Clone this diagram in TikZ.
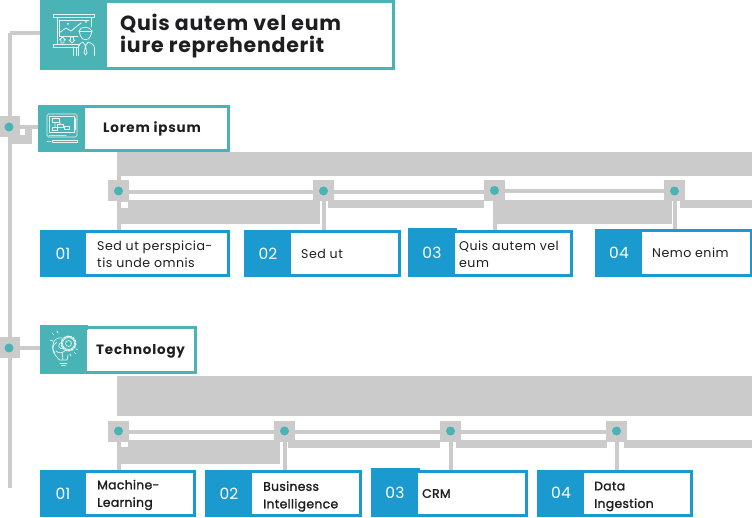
\documentclass[tikz,border=0pt]{standalone}
\usepackage{fontspec}
\setmainfont{Poppins}
\definecolor{tealc}{HTML}{4AB3B5}
\definecolor{bluec}{HTML}{1B9AD0}
\definecolor{grayc}{HTML}{CBCBCB}
\definecolor{inkc}{HTML}{1E1E20}
\definecolor{iconc}{HTML}{E6F6F5}
\newcommand{\panel}[8]{% name,x0,x1,y0,y1,ix0,iy-inset,colour
  \node[panelbox,fill=#8,minimum width={#3-#2},minimum height={#5-#4}] (#1) at ({(#2+#3)/2},{(#4+#5)/2}) {};
  \node[panelbox,fill=white,minimum width={#3-3-#6},minimum height={#5-#4-6}] (#1i) at ({(#6+#3-3)/2},{(#4+#5)/2}) {};
}
\newcommand{\hlink}[2]{\draw[link] ([yshift=-1pt]#1.east) -- ([yshift=-1pt]#1.east -| #2.west);}
\newcommand{\stemlink}[2]{\draw[link] (#1.south) -- (#1.south |- #2.north);}
\newcommand{\bandblock}[4]{\fill[grayc] (#1,#3) rectangle (#2,#4);}
\tikzset{
  panelbox/.style={rectangle,inner sep=0pt,outer sep=0pt},
  junction/.style={rectangle,fill=grayc,minimum size=21pt,inner sep=0pt,outer sep=0pt,
    path picture={\fill[tealc] (path picture bounding box.center) circle (4.5pt);}},
  link/.style={grayc,line width=4pt},
  numtext/.style={text=white,font=\fontsize{15.5}{15}\selectfont\addfontfeature{LetterSpace=1},inner sep=0pt},
  cardtext/.style={text=inkc,anchor=west,align=left,inner sep=0pt,font=\fontsize{12.6}{17}\selectfont\addfontfeature{LetterSpace=3.8}},
  cardbold/.style={cardtext,font=\fontsize{12.4}{17.5}\selectfont\addfontfeature{FakeBold=1.5,LetterSpace=2.5}},
  headtext/.style={cardtext,font=\fontsize{13.5}{17}\selectfont\bfseries\addfontfeature{LetterSpace=6}},
  icon/.style={iconc,line width=0.8pt,line join=round,line cap=round},
}
\begin{document}
\begin{tikzpicture}[x=1pt,y=-1pt]
\clip (0,0) rectangle (752,518);
\fill[white] (0,0) rectangle (752,518);
% ---- panels and junctions
\panel{title}{40}{395}{0}{70}{107}{3}{tealc}
\panel{lorem}{38}{230}{105}{152}{85}{3}{tealc}
\panel{tech}{40}{197}{326}{374}{87}{3}{tealc}
\fill[tealc] (40,325) rectangle (88,330);
\panel{ca}{40}{230}{230}{277}{86}{3}{bluec}
\panel{cb}{244}{401}{230}{277}{291}{3}{bluec}
\panel{cc}{408}{573}{230}{277}{455}{3}{bluec}
\fill[bluec] (408,228) rectangle (457,233);
\panel{cd}{595}{753}{229}{277}{642}{3}{bluec}
\panel{da}{40}{196}{470}{517}{86}{3}{bluec}
\panel{db}{205}{362}{470}{517}{252}{3}{bluec}
\panel{dc}{371}{528}{470}{517}{418}{3}{bluec}
\fill[bluec] (371,468) rectangle (420,473);
\panel{dd}{537}{693}{470}{517}{584}{3}{bluec}
% ---- grey bands
\bandblock{117}{752}{152}{176}
\bandblock{117}{121}{176}{181}
\bandblock{118}{320}{200}{224}
\bandblock{328}{484}{200}{208}
\bandblock{497}{672}{200}{224}
\bandblock{680}{752}{200}{208}
\bandblock{117}{752}{376}{416}
\bandblock{118}{280}{440}{464}
\bandblock{288}{440}{440}{448}
\bandblock{456}{607}{440}{448}
\bandblock{624}{752}{440}{448}
\fill[white] (121,202) rectangle (128,208);
\fill[white] (121,442) rectangle (128,447);
% small block beside the first junction
\fill[grayc] (10,125) rectangle (32,144);
\fill[white] (20,129.5) rectangle (25,135);
% ---- junctions
\node[junction] (ja) at (9,127) {};
\node[junction] (jb) at (9,348) {};
\node[junction] (a1) at (118.5,191) {};
\node[junction] (a2) at (323.5,191) {};
\node[junction] (a3) at (494.5,190.5) {};
\node[junction] (a4) at (674.5,191) {};
\node[junction] (b1) at (118.5,431) {};
\node[junction] (b2) at (284.5,431) {};
\node[junction] (b3) at (450.5,431) {};
\node[junction] (b4) at (616.5,431) {};
\coordinate (top) at (9.5,33.5);
\coordinate (bottom) at (9.5,488);
% ---- connectors
\draw[link] (top) -- (title.west |- top);
\draw[link] (top) -- (top |- ja.north);
\draw[link] (top |- ja.south) -- (top |- jb.north);
\draw[link] (top |- jb.south) -- (bottom);
\draw[link] (ja.east) -- (lorem.west |- ja.east);
\draw[link] (jb.east) -- (tech.west |- jb.east);
\hlink{a1}{a2}\hlink{a2}{a3}\hlink{a3}{a4}
\hlink{b1}{b2}\hlink{b2}{b3}\hlink{b3}{b4}
\stemlink{a1}{ca}\stemlink{a2}{cb}\stemlink{a3}{cc}\stemlink{a4}{cd}
\stemlink{b1}{da}\stemlink{b2}{db}\stemlink{b3}{dc}\stemlink{b4}{dd}
% ---- text
\node[cardtext,font=\fontsize{20.5}{22}\selectfont\bfseries\addfontfeature{LetterSpace=3.6}] (titletext) at (120,36.5) {Quis autem vel eum\\iure reprehenderit};
\node[headtext] (loremtext) at (103,128.5) {Lorem ipsum};
\node[headtext] (techtext) at (96,351.5) {Technology};
\node[numtext] (na) at (63,253.5) {01};
\node[numtext] (nb) at (268,253.5) {02};
\node[numtext] (nc) at (432,253) {03};
\node[numtext] (nd) at (619,252.5) {04};
\node[numtext] (ma) at (63,493.5) {01};
\node[numtext] (mb) at (229,493.5) {02};
\node[numtext] (mc) at (395,492.5) {03};
\node[numtext] (md) at (561,492.5) {04};
\node[cardtext] (ta) at (97,254.5) {Sed ut perspicia-\\tis unde omnis};
\node[cardtext] (tb) at (301,254) {Sed ut};
\node[cardtext] (tc) at (459,254.5) {Quis autem vel\\eum};
\node[cardtext] (td) at (652,253) {Nemo enim};
\node[cardbold] (ua) at (97,495) {Machine-\\Learning};
\node[cardbold] (ub) at (263,496.5) {Business\\Intelligence};
\node[cardbold] (uc) at (422,493.5) {CRM};
\node[cardbold] (ud) at (594,496.5) {Data\\Ingestion};
% ---- icon: presentation
\begin{scope}[icon]
\draw (53,14) rectangle (94,17.5);
\draw (57,17.5) -- (57,44) (91,17.5) -- (91,27);
\draw (59,20) -- (89,20) (59,20) -- (59,36) -- (78,36);
\draw (53,44) rectangle (78,47);
\draw (73,47) -- (73,55.5) (76,47) -- (76,55.5);
\draw (59,33) -- (66,28) -- (71,31) -- (81,23);
\fill[iconc] (68,24) circle (1pt) (86,22) circle (1pt);
\draw (59.5,40) -- (62.5,37) -- (65.5,40) -- (64,40) -- (64,43) -- (61,43) -- (61,40) -- cycle;
\draw (69,40) -- (72,43) -- (75,40) -- (73.5,40) -- (73.5,37) -- (70.5,37) -- (70.5,40) -- cycle;
\draw (79,31) .. controls (80,26) and (90,26) .. (92,31) -- (90.5,36) .. controls (89,41) and (82,41) .. (80.5,36) -- cycle;
\draw (79,31) -- (92,31);
\draw (78.5,55.5) -- (78.5,47) .. controls (78.5,44) and (81,43) .. (83,42) -- (85.5,46) -- (88,42) .. controls (90,43) and (94.5,44) .. (94.5,48) -- (94.5,55.5);
\draw (85.5,46) -- (84,53) -- (85.5,55) -- (87,53) -- cycle;
\end{scope}
% ---- icon: chart tablet
\begin{scope}[icon,line width=0.65pt]
\draw[rounded corners=1.5pt] (47,114) rectangle (77,137);
\draw (49.5,116.5) rectangle (74,132);
\draw (75.5,118) -- (75.5,130);
\draw (52,118.5) rectangle (59,122) (57,124) rectangle (63,127.5) (64,126) rectangle (69,129.5) (52,127) rectangle (57,130);
\draw (55,122) -- (55,127) (60,122) -- (60,124) (63,126) -- (64,127);
\draw (52,140) rectangle (77,142.5);
\draw[densely dotted] (49,135) -- (67,135);
\draw[densely dotted] (47,141) -- (51,141);
\end{scope}
% ---- icon: bulb with gear
\begin{scope}[icon,line width=0.7pt]
\draw (68.5,343.5) circle (3);
\draw (68.5,343.5) circle (6);
\draw[line width=1.6pt,dash pattern=on 1.6pt off 1.6pt] (68.5,343.5) circle (7.2);
\draw (62,338) .. controls (52,336) and (50,350) .. (56,356) -- (59.5,360) -- (67,360) -- (68,355);
\draw (60,363) -- (67,363) (61.5,365.5) -- (65.5,365.5);
\draw (57,342) .. controls (52,345) and (52,350) .. (55,353) (60,343) .. controls (57,346) and (60,350) .. (63,348) (56,351) .. controls (59,354) and (63,353) .. (66,350);
\draw (62,352) -- (63,360) (74,352) -- (76,354) (77.5,349.5) -- (76,349) (70,354) -- (71,356);
\draw (54,335) -- (52,333) (58,333) -- (57,331) (50,340) -- (53,341);
\end{scope}
\end{tikzpicture}
\end{document}
